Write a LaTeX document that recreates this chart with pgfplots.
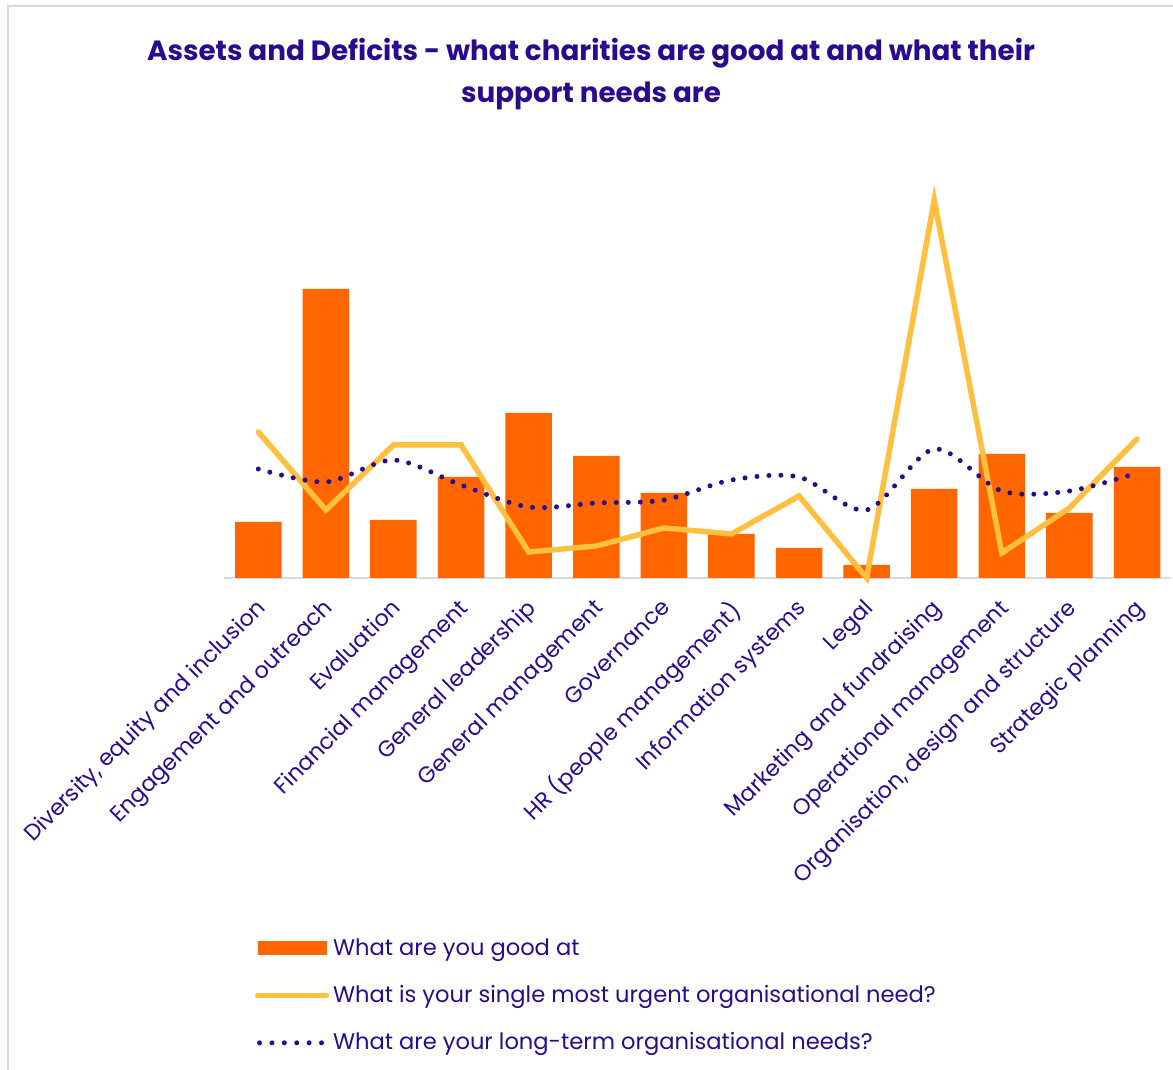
\documentclass[border=0pt]{standalone}
\usepackage{pgfplots}
\pgfplotsset{compat=1.18}
\usepackage{fontspec}
\setmainfont{Poppins}
\definecolor{barC}{HTML}{FF6600}
\definecolor{urgC}{HTML}{FFBF3F}
\definecolor{ltC}{HTML}{2A0A8E}
\definecolor{txtC}{HTML}{2A0A8E}
\definecolor{frameC}{HTML}{D9D9D9}
\begin{document}
\begin{tikzpicture}
\useasboundingbox (0pt,0pt) rectangle (586.5pt,535pt);
\draw[frameC, line width=1.1pt] (4pt,-3pt) -- (4pt,532pt) -- (590pt,532pt);
\node[text=txtC, font=\bfseries\fontsize{13.9}{21}\selectfont, align=center] at (295.5pt,498pt) {Assets and Deficits - what charities are good at and what their\\support needs are};
\begin{axis}[
 at={(112.25pt,246pt)}, anchor=south west,
 scale only axis, width=473.15pt, height=200pt,
 xmin=-0.5, xmax=13.5, ymin=0, ymax=400,
 axis y line=none, axis x line*=bottom,
 x axis line style={draw=frameC, line width=0.9pt, -},
 xtick={0,...,13},
 xticklabels={{Diversity, equity and inclusion},Engagement and outreach,Evaluation,Financial management,General leadership,General management,Governance,HR (people management),Information systems,Legal,Marketing and fundraising,Operational management,{Organisation, design and structure},Strategic planning},
 major tick length=0pt,
 xticklabel style={yshift=-8pt, xshift=-2pt, rotate=45, anchor=north east, font=\fontsize{11.2}{12}\selectfont, text=txtC, inner sep=1pt},
 clip=false,
 legend style={at={(0.0255,-0.88)}, anchor=north west, draw=none, fill=none, font=\fontsize{11.3}{12}\selectfont, text=txtC, row sep=9.6pt, /tikz/every even column/.append style={column sep=4pt}},
 legend cell align=left,
]
\addplot[ybar, bar width=23.25pt, fill=barC, draw=none, legend image code/.code={\fill[barC] (0pt,-3.5pt) rectangle (34.5pt,3.5pt);}] coordinates {
(0,56) (1,289) (2,58) (3,101) (4,165) (5,122) (6,85) (7,44) (8,30) (9,13) (10,89) (11,124) (12,65) (13,111)};
\addplot[urgC, line width=2.75pt, line cap=round, legend image code/.code={\draw[urgC, line width=2.5pt, line cap=round] (0pt,0pt) -- (34.5pt,0pt);}] coordinates {
(0,146) (1,68) (2,133) (3,133) (4,26) (5,32) (6,50) (7,44) (8,82) (9,0) (10,378) (11,25) (12,70) (13,139)};
\addplot[ltC, line width=2.5pt, smooth, line cap=round, dash pattern=on 0pt off 6pt, legend image code/.code={\draw[ltC, line width=2.5pt, line cap=round, dash pattern=on 0pt off 6.2pt] (1pt,0pt) -- (34.5pt,0pt);}] coordinates {
(0,109) (1,96) (2,118) (3,93) (4,71) (5,75) (6,78) (7,98) (8,101) (9,68) (10,129) (11,87) (12,87) (13,105)};
\legend{What are you good at,What is your single most urgent organisational need?,What are your long-term organisational needs?}
\end{axis}
\end{tikzpicture}
\end{document}
